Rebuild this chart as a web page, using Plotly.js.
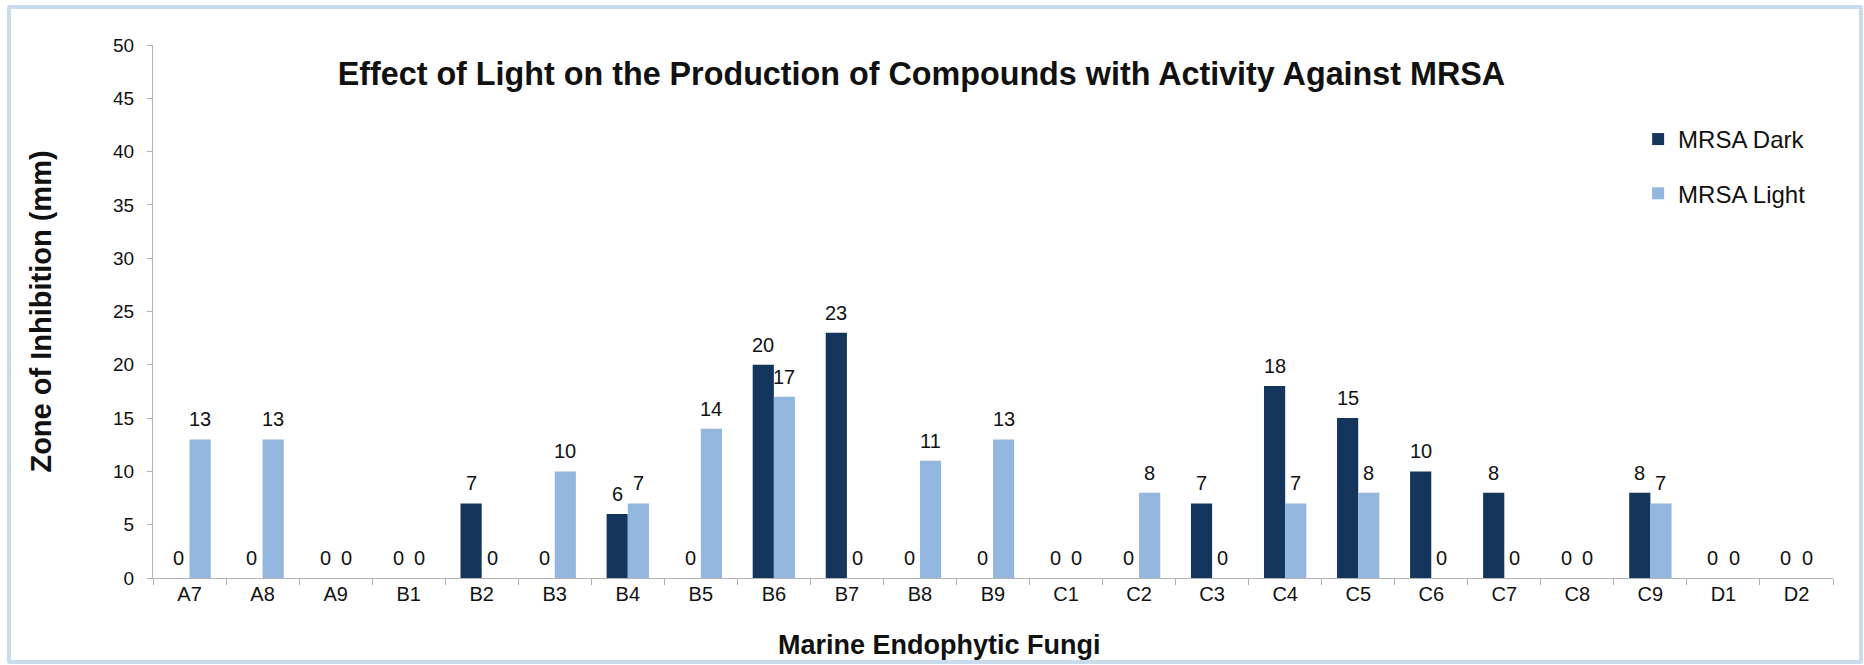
<!DOCTYPE html>
<html>
<head>
<meta charset="utf-8">
<script src="https://cdn.plot.ly/plotly-3.0.1.min.js"></script>
<style>
  html, body { margin: 0; padding: 0; background: #ffffff; }
  #wrap { position: relative; width: 1864px; height: 665px; overflow: hidden; }
  #chart { position: absolute; left: 0; top: 0; width: 1864px; height: 665px; }
  #frame { position: absolute; left: 7px; top: 5px; width: 1848px; height: 651px;
           border: 4px solid #c9dcee; border-radius: 3px; pointer-events: none; }
</style>
</head>
<body>
<div id="wrap">
  <div id="chart"></div>
  <div id="frame"></div>
</div>
<script>
const categories = ["A7","A8","A9","B1","B2","B3","B4","B5","B6","B7","B8","B9",
                    "C1","C2","C3","C4","C5","C6","C7","C8","C9","D1","D2"];
const darkValues  = [0,0,0,0,7,0,6,0,20,23,0,0,0,0,7,18,15,10,8,0,8,0,0];
const lightValues = [13,13,0,0,0,10,7,14,17,0,11,13,0,8,0,7,8,0,0,0,7,0,0];
const seriesNames = ["MRSA Dark", "MRSA Light"];
const yTicks = [0,5,10,15,20,25,30,35,40,45,50];

const FONT = "Liberation Sans, Arial, sans-serif";
const W = 1864, H = 665;
const M = { l: 153, r: 31, t: 45, b: 87 };
const BARGAP = 0.42;

const traces = [
  {
    type: "bar", name: seriesNames[0], x: categories, y: darkValues,
    marker: { color: "#15365c" }, legendgroup: "d"
  },
  {
    type: "bar", name: seriesNames[1], x: categories, y: lightValues,
    marker: { color: "#93b7de" }, legendgroup: "l"
  }
];

// value labels placed through the axis scales (category + value), offset to each bar of the pair
const slot = (W - M.l - M.r) / categories.length;
const half = slot * (1 - BARGAP) / 4;
const labelFont = { family: FONT, size: 20, color: "#111111" };
const valueLabels = [];
[darkValues, lightValues].forEach((vals, s) => {
  vals.forEach((v, i) => {
    valueLabels.push({
      x: categories[i], y: v, xref: "x", yref: "y",
      text: String(v), showarrow: false,
      xanchor: "center", yanchor: "bottom",
      xshift: s === 0 ? -half : half, yshift: 7,
      font: labelFont
    });
  });
});

const layout = {
  width: W, height: H,
  margin: M,
  paper_bgcolor: "#ffffff", plot_bgcolor: "#ffffff",
  font: { family: FONT, color: "#111111" },
  barmode: "group", bargap: BARGAP, bargroupgap: 0,
  title: {
    text: "Effect of Light on the Production of Compounds with Activity Against MRSA",
    font: { family: FONT, size: 32.3, weight: "bold", color: "#111111" },
    xref: "container", x: 0.4943, xanchor: "center",
    yref: "container", y: 0.889, yanchor: "middle"
  },
  xaxis: {
    type: "category",
    showline: true, linecolor: "#b3b3b3", linewidth: 1,
    ticks: "outside", tickson: "boundaries", ticklen: 6, tickcolor: "#b3b3b3",
    tickfont: { family: FONT, size: 20, color: "#111111" },
    ticklabelstandoff: -2,
    showgrid: false, zeroline: false
  },
  yaxis: {
    range: [0, 50], tickvals: yTicks,
    showline: true, linecolor: "#b3b3b3", linewidth: 1,
    ticks: "outside", ticklen: 5, tickcolor: "#b3b3b3",
    tickfont: { family: FONT, size: 19, color: "#111111" },
    ticklabelstandoff: 9,
    showgrid: false, zeroline: false,
    title: {
      text: "Zone of Inhibition (mm)",
      font: { family: FONT, size: 29, weight: "bold", color: "#111111" },
      standoff: 52
    }
  },
  showlegend: true,
  legend: {
    x: 0.884, xanchor: "left", y: 0.865, yanchor: "top",
    traceorder: "grouped", tracegroupgap: 20,
    font: { family: FONT, size: 24, color: "#111111" },
    bgcolor: "rgba(0,0,0,0)"
  },
  annotations: valueLabels.concat([
    {
      text: "Marine Endophytic Fungi",
      xref: "paper", yref: "paper", x: 0.468, y: -0.126,
      xanchor: "center", yanchor: "middle", showarrow: false,
      font: { family: FONT, size: 27, weight: "bold", color: "#111111" }
    }
  ])
};

Plotly.newPlot("chart", traces, layout, { displayModeBar: false, staticPlot: true });
</script>
</body>
</html>
